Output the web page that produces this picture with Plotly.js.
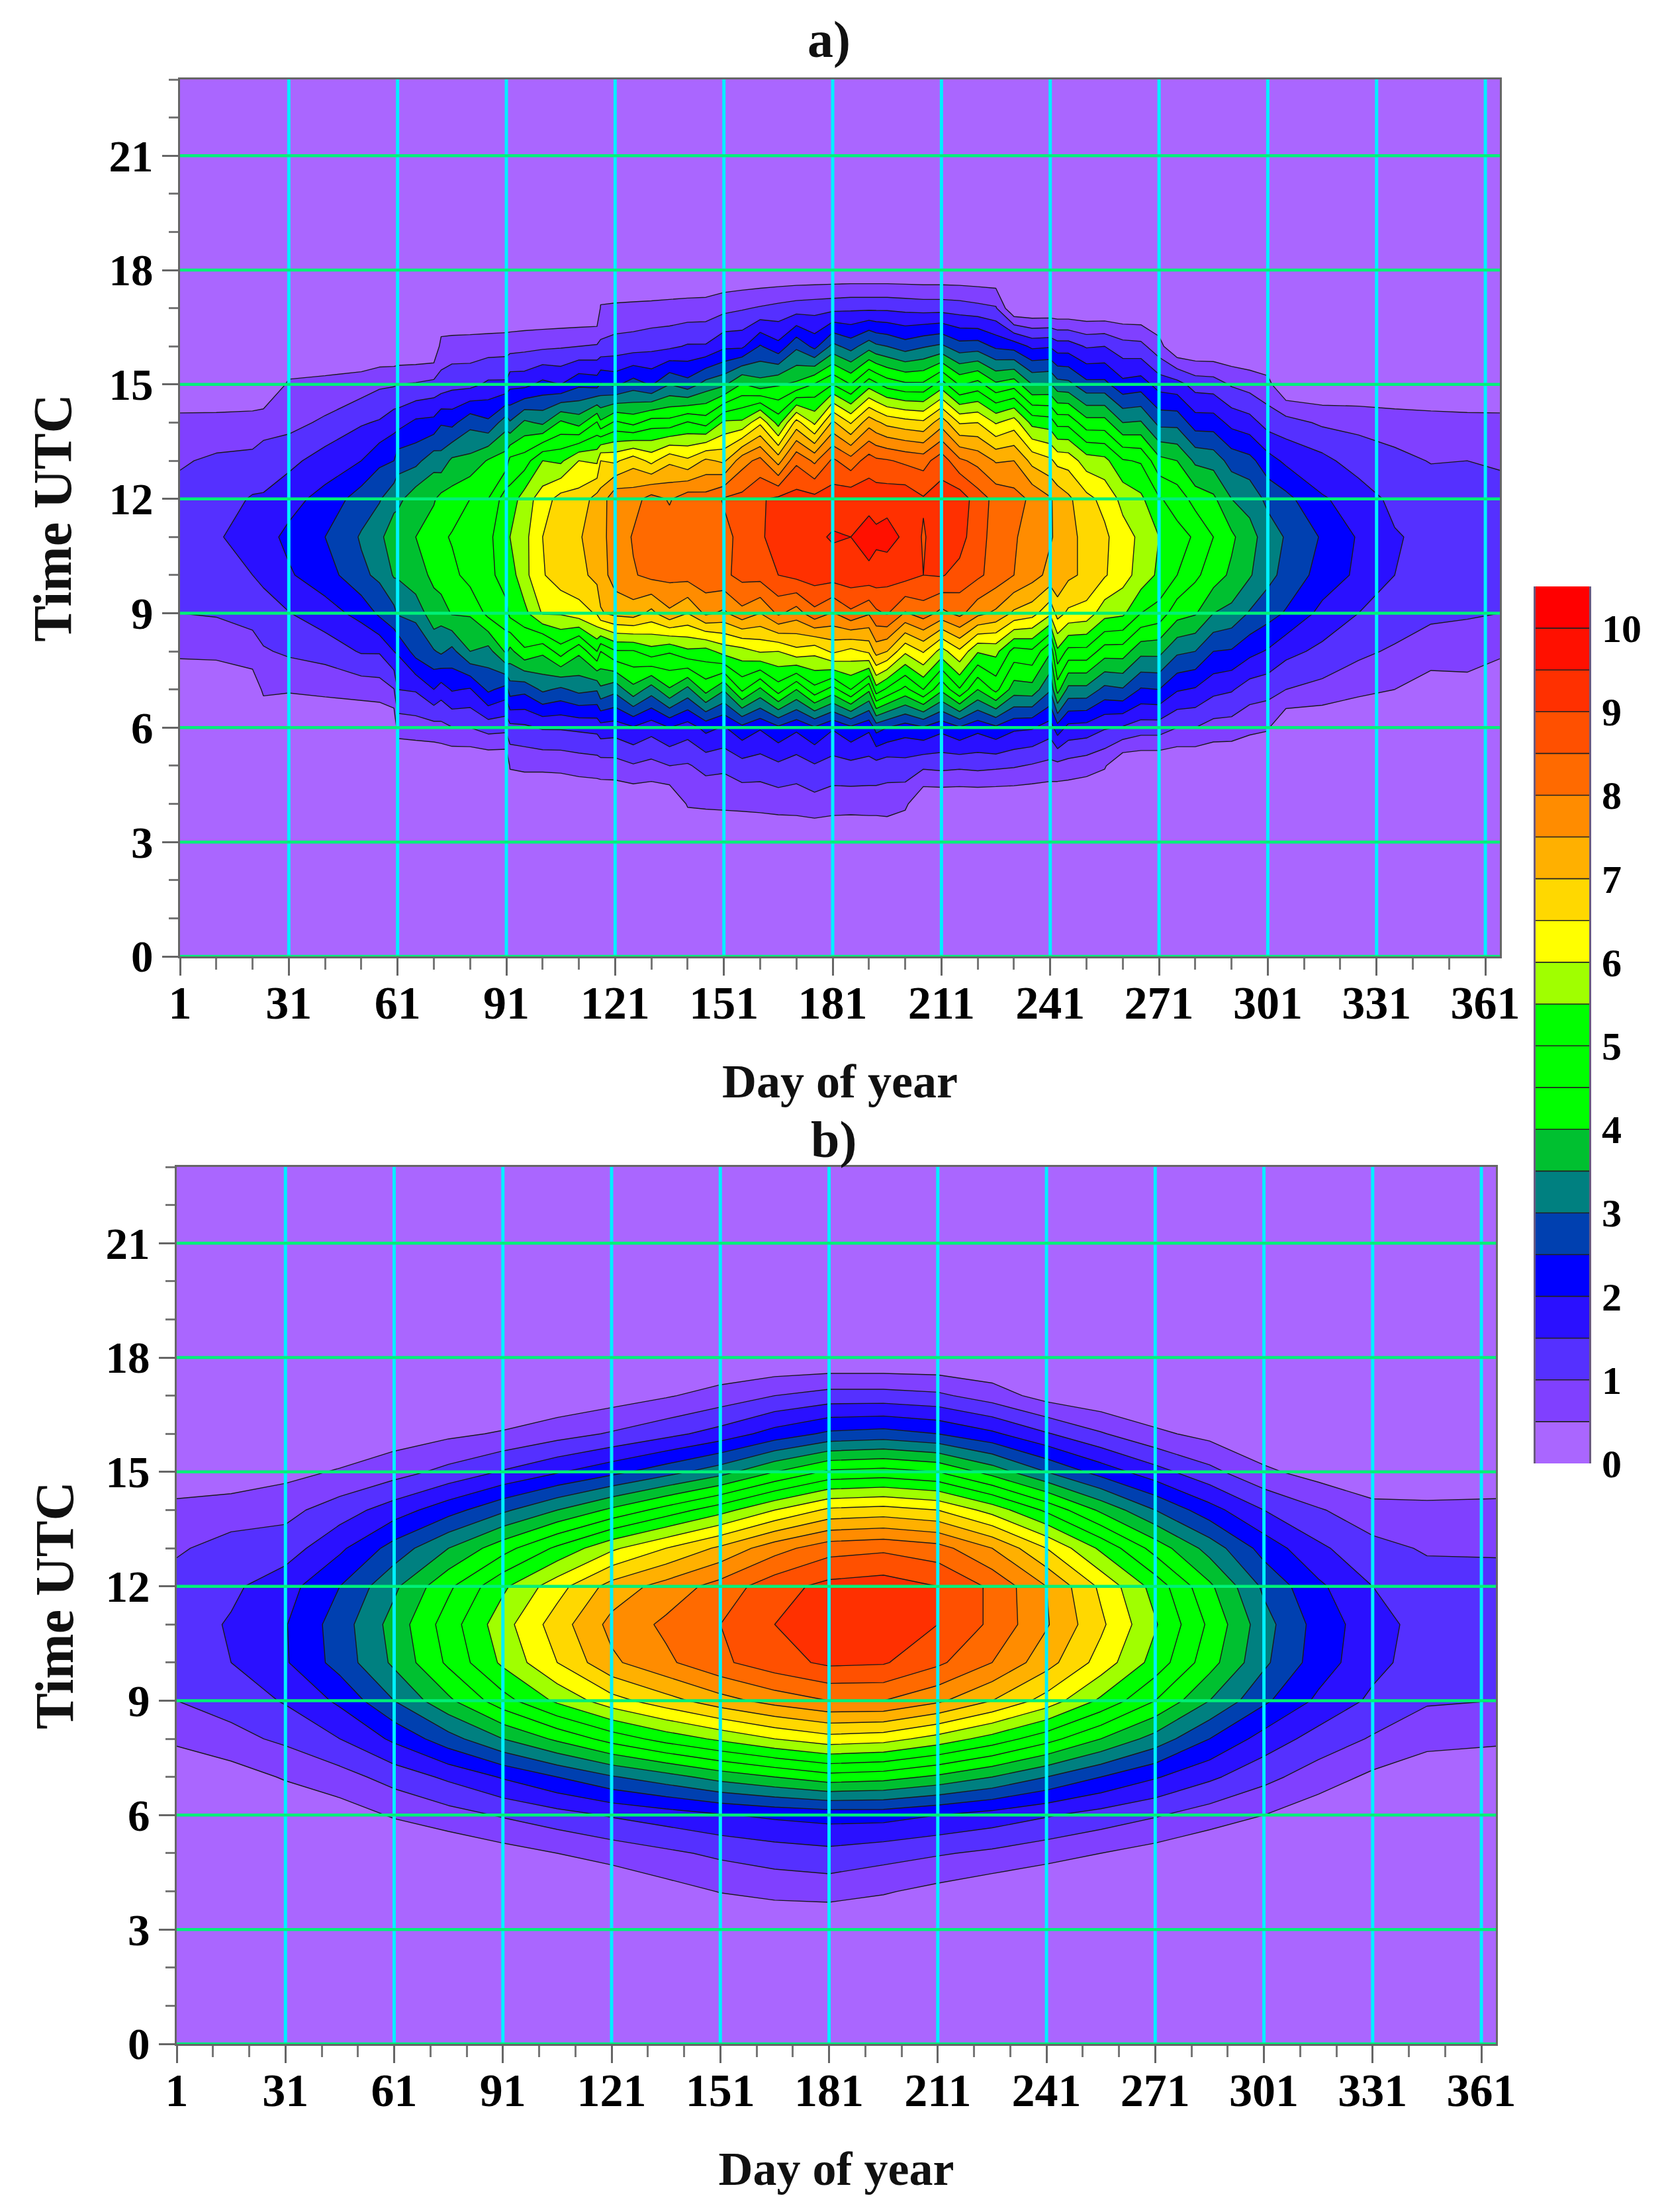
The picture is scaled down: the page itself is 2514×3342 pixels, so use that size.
<!DOCTYPE html>
<html><head><meta charset="utf-8">
<script src="https://cdn.plot.ly/plotly-3.0.1.min.js"></script>
<style>html,body{margin:0;padding:0;background:#fff}</style></head>
<body><div id="chart" style="width:2514px;height:3342px"></div>
<script>
const hours=[0,3,4,5,6,7,8,9,10,11,12,13,14,15,16,17,18,23];
const xMajor=[1,31,61,91,121,151,181,211,241,271,301,331,361];
const xMinor=[11,21,41,51,71,81,101,111,131,141,161,171,191,201,221,231,251,261,281,291,311,321,341,351];
const yMajor=[0,3,6,9,12,15,18,21];
const yMinor=[1,2,4,5,7,8,10,11,13,14,16,17,19,20,22,23];
const levels=[0,1,2,3,4,5,6,7,8,9,10];
const bandMids=[.25,.75,1.25,1.75,2.25,2.75,3.25,3.75,4.25,4.75,5.25,5.75,6.25,6.75,7.25,7.75,8.25,8.75,9.25,9.75,10.25];
const bandEdges=[.5,1,1.5,2,2.5,3,3.5,4,4.5,5,5.5,6,6.5,7,7.5,8,8.5,9,9.5,10];
const bandColors=['#AA66FF','#8040FF','#5530FF','#2A10FF','#0000FF','#0040B0','#008080','#00C030','#00FF00','#00FF00','#00FF00','#A0FF00','#FFFF00','#FFD800','#FFB000','#FF8C00','#FF6A00','#FF5000','#FF3000','#FF1000','#FF0000'];

// panel a: one list per day, hours 3..18
const daysA=[1,11,21,24,31,41,51,56,60,61,66,71,73,76,81,86,91,92,96,101,106,111,116,117,121,126,131,136,141,146,151,156,161,166,171,176,181,186,191,193,196,201,206,211,216,221,226,231,236,241,243,246,251,256,261,266,271,276,281,286,291,296,301,306,316,326,336,346,356,365];
const colsA=[
[0,0,0,0,0,.62,1.0,1.2,1.3,1.15,.95,.67,0,0,0,0],
[0,0,0,0,0,.65,1.04,1.3,1.45,1.25,1.08,.68,0,0,0,0],
[0,0,0,0,.1,.85,1.12,1.5,1.7,1.55,1.12,.72,0,0,0,0],
[0,0,0,0,.6,.95,1.3,1.6,1.85,1.55,1.25,.78,0,0,0,0],
[0,0,0,0,.55,1.08,1.48,1.95,2.1,1.85,1.35,.85,.58,0,0,0],
[0,0,0,0,.62,1.2,1.8,2.25,2.5,2.15,1.75,1.08,.65,0,0,0],
[0,0,0,0,.7,1.55,2.15,2.9,3.05,2.75,2.0,1.45,.75,0,0,0],
[0,0,0,0,.75,1.55,2.6,3.1,3.4,2.95,2.4,1.55,.92,0,0,0],
[0,0,0,0,.98,2.0,2.85,3.55,3.75,3.35,2.5,1.8,.95,0,0,0],
[0,0,0,.7,1.5,2.05,3.05,3.55,3.85,3.35,2.8,1.8,1.0,0,0,0],
[0,0,0,.75,1.55,2.7,3.1,3.9,4.0,3.8,2.85,2.1,1.05,0,0,0],
[0,0,0,.8,2.0,2.95,3.9,4.05,4.25,3.95,3.3,2.15,1.15,0,0,0],
[0,0,0,.85,1.75,3.1,3.7,4.3,4.4,4.15,3.2,2.45,1.2,.67,0,0],
[0,0,0,.98,2.05,2.85,4.05,4.35,4.55,4.2,3.6,2.35,1.35,.7,0,0],
[0,0,0,1.0,1.95,3.5,4.05,4.7,4.7,4.5,3.65,2.85,1.35,.72,0,0],
[0,0,0,1.2,2.6,3.3,4.65,4.85,4.9,4.5,4.05,2.6,1.6,.75,0,0],
[0,0,0,1.15,2.3,4.1,4.85,5.25,5.3,5.3,4.25,3.3,1.6,.78,0,0],
[0,0,.55,1.35,2.75,3.85,5.15,5.25,5.5,5.2,4.65,3.05,1.85,.8,0,0],
[0,0,.6,1.4,2.65,4.4,5.35,5.85,5.85,5.75,4.75,3.6,1.85,.85,0,0],
[0,0,.6,1.55,3.1,4.1,6.05,6.45,6.5,6.25,5.5,3.4,2.15,.9,0,0],
[0,0,.62,1.55,2.9,4.75,6.05,6.8,6.75,6.7,5.4,4.1,2.0,.95,0,0],
[0,0,.7,1.6,3.15,4.1,6.3,6.85,6.95,6.7,6.0,3.8,2.4,1.0,0,0],
[0,0,.75,1.65,3.05,5.0,6.55,7.15,7.25,7.2,5.9,4.55,2.3,1.05,0,0],
[0,0,.78,1.8,3.4,4.5,6.95,7.25,7.4,7.2,6.5,4.1,2.55,1.1,.55,0],
[0,0,.8,1.75,3.15,4.95,7.15,7.75,7.65,7.9,6.4,4.6,2.4,1.2,.58,0],
[0,0,.95,1.95,3.85,4.95,7.25,7.95,8.05,7.8,6.8,4.35,2.75,1.25,.6,0],
[0,0,.85,1.7,3.25,5.3,6.85,8.15,8.2,8.2,6.35,4.75,2.45,1.35,.62,0],
[0,0,1.0,2.0,3.95,5.05,7.4,8.15,8.25,7.95,6.9,4.7,3.0,1.4,.65,0],
[0,.55,.95,1.75,3.35,5.4,7.0,8.2,8.3,8.3,6.6,5.05,2.7,1.55,.68,0],
[0,.58,1.15,2.15,4.2,5.3,7.6,8.35,8.4,8.2,7.1,4.8,3.2,1.55,.7,0],
[0,.6,1.1,1.95,3.55,5.7,7.4,8.4,8.35,8.55,6.9,5.6,3.4,1.9,.85,0],
[0,.62,1.3,2.35,4.6,5.8,7.85,8.65,8.65,8.65,7.8,5.6,4.05,1.9,.95,0],
[0,.65,1.25,2.05,3.9,6.05,7.5,8.7,8.95,8.95,8.15,6.4,3.7,2.55,1.05,0],
[0,.7,1.4,2.4,4.75,6.0,8.1,9.0,9.15,9.1,7.3,5.3,3.95,2.15,1.15,0],
[0,.72,1.25,2.1,4.0,6.35,7.75,9.15,9.5,9.2,8.4,6.7,4.1,2.9,1.25,0],
[0,.8,1.45,2.45,4.85,6.15,8.35,9.25,9.4,9.15,7.9,5.9,4.55,2.35,1.3,0],
[0,.72,1.3,2.05,4.3,6.6,7.95,9.25,9.55,9.25,8.6,7.1,5.0,3.15,1.35,0],
[0,.7,1.35,2.4,5.0,6.35,8.4,9.3,9.5,9.35,8.2,6.45,4.5,2.8,1.4,0],
[0,.72,1.3,2.1,4.1,6.6,8.05,9.35,9.75,9.3,8.75,7.3,5.3,3.3,1.4,0],
[0,.72,1.3,2.7,5.3,7.2,8.4,9.3,9.6,9.3,8.6,7.1,5.1,3.1,1.4,0],
[0,.75,1.2,2.5,4.9,7.0,8.55,9.2,9.7,9.3,8.55,6.85,4.8,3.0,1.4,0],
[0,.6,1.3,2.25,4.35,6.1,7.95,9.2,9.4,9.35,8.4,6.7,4.6,2.75,1.35,0],
[0,0,1.1,2.45,5.0,6.55,8.25,9.0,8.95,9.05,8.3,6.6,4.6,2.95,1.3,0],
[0,0,1.15,2.15,4.1,5.8,7.85,9.05,9.3,9.2,8.8,7.3,5.25,3.1,1.3,0],
[0,0,1.1,2.45,4.95,6.4,8.15,8.8,9.25,9.3,8.1,6.45,4.45,2.7,1.25,0],
[0,0,1.15,2.15,4.0,5.55,7.65,8.6,8.6,8.75,7.85,6.5,4.7,2.75,1.15,0],
[0,0,1.1,2.4,4.65,5.65,7.4,8.3,8.4,8.35,7.45,5.95,4.1,2.4,1.05,0],
[0,0,1.05,2.1,3.75,4.8,6.9,8.0,8.05,8.2,7.5,6.25,4.3,2.3,0,0],
[0,0,.95,2.05,3.8,4.9,6.7,7.7,7.8,7.9,6.85,5.35,3.5,1.9,0,0],
[0,0,.85,1.75,3.05,4.05,6.1,7.35,7.55,7.55,6.6,5.25,3.55,1.95,0,0],
[0,0,.85,2.3,4.2,5.4,6.7,7.4,7.4,7.35,6.35,4.85,3.2,1.75,0,0],
[0,0,.8,1.85,3.35,4.85,6.4,7.1,7.1,7.1,6.3,4.85,3.15,1.75,0,0],
[0,0,.7,1.8,3.35,4.85,6.3,6.9,6.9,6.65,5.75,4.2,2.65,1.45,0,0],
[0,0,.55,1.55,2.85,4.25,5.7,6.55,6.6,6.35,5.65,4.2,2.65,1.5,0,0],
[0,0,0,1.45,2.95,4.25,5.6,6.2,6.2,5.85,5.05,3.5,2.15,1.2,0,0],
[0,0,0,1.25,2.45,3.65,5.0,5.8,5.9,5.6,4.95,3.55,2.25,1.15,0,0],
[0,0,0,1.25,2.5,3.65,4.8,5.4,5.5,5.05,4.15,2.85,1.8,.68,0,0],
[0,0,0,1.0,2.05,3.1,4.2,5.0,5.15,4.8,4.0,2.85,1.7,0,0,0],
[0,0,0,1.0,1.95,3.0,4.05,4.6,4.95,4.3,3.4,2.25,1.3,0,0,0],
[0,0,0,.8,1.65,2.5,3.5,4.25,4.5,4.1,3.3,2.25,1.25,0,0,0],
[0,0,0,.78,1.55,2.45,3.35,3.9,4.1,3.5,2.8,1.85,.95,0,0,0],
[0,0,0,.62,1.25,2.15,2.95,3.55,3.65,3.35,2.65,1.7,.8,0,0,0],
[0,0,0,.55,1.18,1.95,2.7,3.15,3.3,2.85,2.2,1.3,.65,0,0,0],
[0,0,0,0,1.0,1.65,2.45,2.85,2.95,2.65,1.9,1.2,0,0,0,0],
[0,0,0,0,.85,1.38,1.85,2.3,2.45,2.05,1.65,.92,0,0,0,0],
[0,0,0,0,.62,1.12,1.5,1.9,1.95,1.8,1.25,.88,0,0,0,0],
[0,0,0,0,.5,.92,1.33,1.5,1.55,1.35,1.12,.78,0,0,0,0],
[0,0,0,0,.2,.8,1.08,1.3,1.35,1.22,.98,.72,0,0,0,0],
[0,0,0,0,.35,.68,1.06,1.25,1.3,1.13,1.0,.68,0,0,0,0],
[0,0,0,0,0,.62,1.0,1.2,1.3,1.15,.95,.67,0,0,0,0]
];

// panel b: one list per day, hours 3..18
const daysB=[1,16,31,46,61,76,91,106,121,136,151,166,181,196,211,226,241,256,271,286,301,316,331,346,365];
const colsB=[
[0,0,0,0,0,.62,1.0,1.2,1.25,1.15,.95,.67,.1,0,0,0],
[0,0,0,0,.25,.85,1.2,1.5,1.55,1.4,1.15,.8,.1,0,0,0],
[0,0,0,.05,.55,1.1,1.55,1.95,1.97,1.8,1.25,.85,.35,0,0,0],
[0,0,0,.25,.8,1.5,2.1,2.7,2.75,2.5,1.9,1.25,.55,.05,0,0],
[0,0,0,.55,1.2,2.1,3.0,3.6,3.7,3.4,2.7,1.75,.8,.25,0,0],
[0,0,.1,.8,1.6,2.8,3.9,4.6,4.75,4.4,3.5,2.3,1.15,.4,0,0],
[0,0,.3,1.05,2.05,3.5,4.8,5.6,5.8,5.4,4.3,2.9,1.55,.55,0,0],
[0,0,.5,1.3,2.5,4.1,5.6,6.5,6.75,6.3,5.1,3.5,1.95,.8,.1,0],
[0,.05,.7,1.55,2.95,4.7,6.3,7.4,7.65,7.2,5.9,4.1,2.35,1.05,.25,0],
[0,.3,.9,1.75,3.3,5.2,6.8,7.9,8.1,7.7,6.5,4.7,2.8,1.35,.45,0],
[0,.52,1.1,1.95,3.7,5.6,7.3,8.4,8.5,8.2,7.1,5.3,3.3,1.7,.7,0],
[0,.65,1.25,2.1,4.0,6.0,7.7,8.8,9.0,8.8,7.8,6.0,4.0,2.2,1.0,0],
[0,.7,1.35,2.2,4.3,6.3,8.0,9.1,9.3,9.15,8.3,6.6,4.6,2.6,1.2,0],
[0,.55,1.2,2.2,4.2,6.2,8.0,9.05,9.35,9.25,8.4,6.7,4.7,2.7,1.2,0],
[0,.35,1.05,2.0,3.9,5.8,7.6,8.6,9.0,9.0,8.2,6.5,4.5,2.5,1.1,0],
[0,.15,.9,1.8,3.5,5.3,7.0,8.0,8.4,8.4,7.5,5.8,3.8,2.1,.75,0],
[0,0,.7,1.55,3.0,4.7,6.3,7.2,7.55,7.5,6.5,4.9,3.0,1.55,.3,0],
[0,0,.5,1.3,2.5,4.0,5.4,6.3,6.6,6.4,5.4,3.9,2.3,1.05,.1,0],
[0,0,.3,1.05,2.05,3.3,4.5,5.3,5.55,5.3,4.3,3.0,1.7,.6,0,0],
[0,0,.1,.75,1.6,2.5,3.5,4.2,4.4,4.1,3.3,2.2,1.15,.35,0,0],
[0,0,0,.5,1.15,1.8,2.6,3.1,3.2,2.9,2.3,1.5,.6,.05,0,0],
[0,0,0,.2,.75,1.3,1.9,2.25,2.3,2.1,1.6,1.05,.3,0,0,0],
[0,0,0,0,.4,.95,1.4,1.65,1.7,1.5,1.15,.7,.02,0,0,0],
[0,0,0,0,.1,.7,1.05,1.25,1.3,1.2,.95,.67,0,0,0,0],
[0,0,0,0,0,.62,1.0,1.2,1.25,1.15,.95,.67,.1,0,0,0]
];

const zeroRow=n=>new Array(n).fill(0);
function rows(cols){ // columns for hours 3..18 -> z[hour][day], hour 0 and 23 empty
  return [zeroRow(cols.length)].concat(cols[0].map((_,i)=>cols.map(c=>c[i])),[zeroRow(cols.length)]);
}
const scale=bandColors.map((c,i)=>[i/(bandColors.length-1),c]);
const serif='"Liberation Serif","Times New Roman",serif';
const contours={start:.5,end:10,size:.5,coloring:'fill',showlines:true};
const line={color:'#1a1a1a',width:1.4,smoothing:0};

const trA={type:'contour',x:daysA,y:hours,z:rows(colsA),xaxis:'x',yaxis:'y',autocontour:false,contours,line,colorscale:scale,showscale:false};
const trB={type:'contour',x:daysB,y:hours,z:rows(colsB),xaxis:'x2',yaxis:'y2',autocontour:false,contours,line,colorscale:scale,showscale:false};
const trKey={type:'heatmap',x:[0],y:bandMids,z:bandMids.map((_,i)=>[i]),xaxis:'x3',yaxis:'y3',zmin:0,zmax:bandColors.length-1,colorscale:scale,showscale:false,hoverinfo:'skip'};

function xAxis(dom,anchor,standoff){return {domain:dom,anchor,range:[1,365],tickmode:'array',tickvals:xMajor,ticktext:xMajor.map(String),ticks:'outside',ticklen:26,tickwidth:3,tickcolor:'#666',ticklabelstandoff:-19,
  minor:{tickmode:'array',tickvals:xMinor,ticks:'outside',ticklen:17,tickwidth:3,tickcolor:'#777'},showgrid:false,zeroline:false,showline:true,mirror:true,linecolor:'#666',linewidth:3,
  tickfont:{family:serif,size:70,color:'#000',weight:'bold'},title:{text:'Day of year',standoff,font:{family:serif,size:72,color:'#111',weight:'bold'}}};}
function yAxis(dom,anchor,standoff){return {domain:dom,anchor,range:[0,23],tickmode:'array',tickvals:yMajor,ticktext:yMajor.map(String),ticks:'outside',ticklen:24,tickwidth:3,tickcolor:'#666',
  minor:{tickmode:'array',tickvals:yMinor,ticks:'outside',ticklen:14,tickwidth:3,tickcolor:'#777'},showgrid:false,zeroline:false,showline:true,mirror:true,linecolor:'#666',linewidth:3,
  tickfont:{family:serif,size:67,color:'#000',weight:'bold'},title:{text:'Time UTC',standoff,font:{family:serif,size:82,color:'#111',weight:'bold'}}};}

const gridShapes=[];
[['x','y'],['x2','y2']].forEach(([xr,yr])=>{
  xMajor.slice(1).forEach(d=>gridShapes.push({type:'line',xref:xr,yref:yr,x0:d,x1:d,y0:0,y1:23,layer:'above',line:{color:'#00F0FF',width:5}}));
  yMajor.forEach(h=>gridShapes.push({type:'line',xref:xr,yref:yr,x0:1,x1:365,y0:h,y1:h,layer:'above',line:{color:'#00F078',width:4.5}}));
});
const keyShapes=bandEdges.map(v=>({type:'line',xref:'x3 domain',yref:'y3',x0:0,x1:1,y0:v,y1:v,layer:'above',line:{color:'#222',width:1.6}}));

const layout={width:2514,height:3342,margin:{l:0,r:0,t:0,b:0},paper_bgcolor:'#fff',plot_bgcolor:'#AA66FF',showlegend:false,
  xaxis:xAxis([272/2514,2266/2514],'y',55),yaxis:yAxis([1-1445/3342,1-120/3342],'x',30),
  xaxis2:xAxis([267/2514,2260/2514],'y2',55),yaxis2:yAxis([1-3088/3342,1-1763/3342],'x2',22),
  xaxis3:{domain:[2320/2514,2401/2514],anchor:'y3',visible:false,fixedrange:true},
  yaxis3:{domain:[1-2211/3342,1-886/3342],anchor:'x3',side:'right',range:[0,10.5],tickmode:'array',tickvals:levels,ticktext:levels.map(String),ticks:'outside',ticklen:4,tickcolor:'rgba(0,0,0,0)',showgrid:false,zeroline:false,showline:true,mirror:true,linecolor:'#6a5a80',linewidth:3,
    tickfont:{family:serif,size:60,color:'#000',weight:'bold'}},
  shapes:gridShapes.concat(keyShapes),
  annotations:[
   {text:'a)',xref:'paper',yref:'paper',x:1252/2514,y:1-60/3342,xanchor:'center',yanchor:'middle',showarrow:false,font:{family:serif,size:78,color:'#111',weight:'bold'}},
   {text:'b)',xref:'paper',yref:'paper',x:1259/2514,y:1-1721/3342,xanchor:'center',yanchor:'middle',showarrow:false,font:{family:serif,size:78,color:'#111',weight:'bold'}}
  ]};
Plotly.newPlot('chart',[trA,trB,trKey],layout,{displayModeBar:false,responsive:false});
</script></body></html>
